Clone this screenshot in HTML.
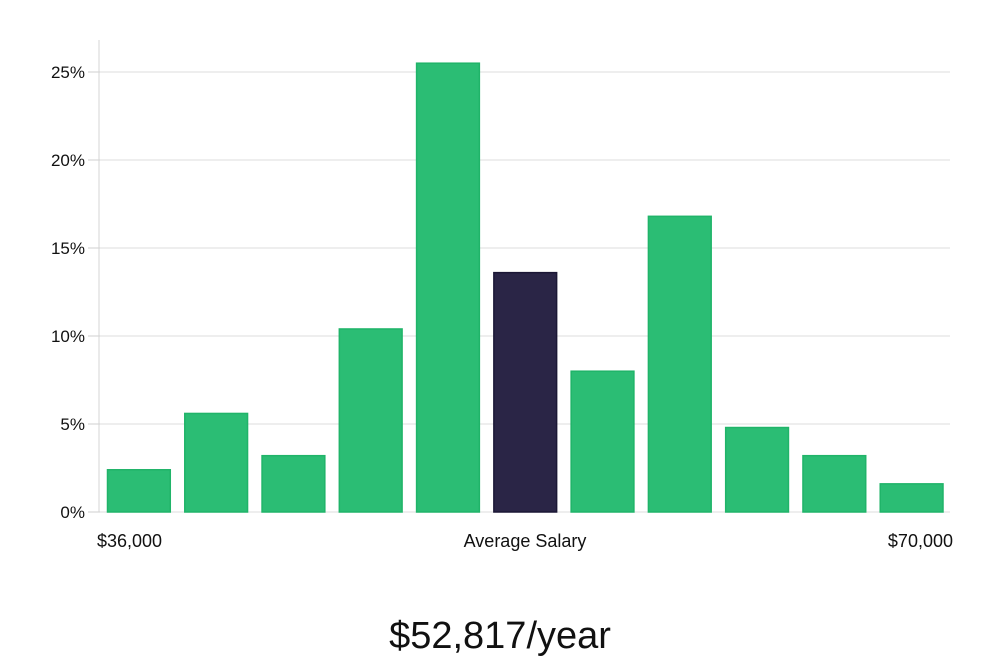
<!DOCTYPE html>
<html><head><meta charset="utf-8"><style>
html,body{margin:0;padding:0;background:#fff;}
body{width:1000px;height:660px;overflow:hidden;font-family:"Liberation Sans","DejaVu Sans",sans-serif;}
</style></head><body>
<svg id="chart" width="1000" height="660" viewBox="0 0 1000 660" xmlns="http://www.w3.org/2000/svg"></svg>
<script>
const categories = ["b1","b2","b3","b4","b5","b6","b7","b8","b9","b10","b11"];
const values = [2.4,5.6,3.2,10.4,25.5,13.6,8.0,16.8,4.8,3.2,1.6];
const highlightIndex = 5;
const yTicks = [0,5,10,15,20,25];
const yTickLabels = ["0%","5%","10%","15%","20%","25%"];
const xLabels = ["$36,000","Average Salary","$70,000"];
const title = "$52,817/year";

const svg = document.getElementById('chart');
const NS = "http://www.w3.org/2000/svg";
const left = 100, right = 950, top0 = 40, bottom = 512;
const yScale = v => bottom - v * 17.6;
const band = (right - left) / categories.length;
const xScale = i => left + i * band;
function mk(tag, attrs){const e=document.createElementNS(NS,tag);for(const k in attrs)e.setAttribute(k,attrs[k]);svg.appendChild(e);return e;}

yTicks.forEach((t,i)=>{
  const y=yScale(t);
  if(t>0){const g=mk('line',{x1:left,x2:right,y1:y,y2:y,stroke:'#dcdcdc','stroke-width':1});
  
  }
  const tk=mk('line',{x1:88,x2:left,y1:y,y2:y,stroke:'#cfcfcf','stroke-width':1});
  
  
  const tx=mk('text',{x:85,y:y+6,'text-anchor':'end','font-size':17,fill:'#111'});
  tx.textContent=yTickLabels[i];
  
  
});
const ax=mk('line',{x1:left-1,x2:left-1,y1:top0,y2:bottom,stroke:'#d6d6d6','stroke-width':1});


const bx=mk('line',{x1:left,x2:right,y1:bottom,y2:bottom,stroke:'#dcdcdc','stroke-width':1});



values.forEach((v,i)=>{
  const hl=i===highlightIndex;
  const x=xScale(i)+7.5, w=band-14.5, y=yScale(v);
  const r=mk('rect',{x:x,y:y,width:w,height:bottom-y,fill:hl?'#2a2546':'#2bbd74',stroke:hl?'#1b1735':'#20b469','stroke-width':1.5});
  
  
});

const xl=[[97,'start'],[525,'middle'],[953,'end']];
xLabels.forEach((l,i)=>{
  const t=mk('text',{x:xl[i][0],y:547,'text-anchor':xl[i][1],'font-size':18,fill:'#111'});
  t.textContent=l;
  
  
});
const tt=mk('text',{x:500,y:648,'text-anchor':'middle','font-size':38,fill:'#111','font-weight':300});
tt.textContent=title;


</script>
</body></html>
